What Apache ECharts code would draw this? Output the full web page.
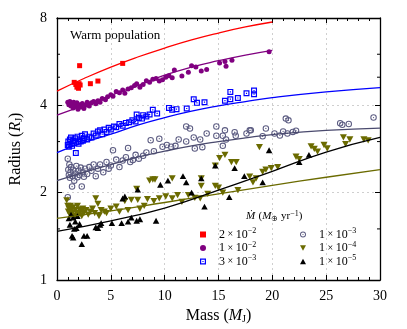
<!DOCTYPE html>
<html><head><meta charset="utf-8">
<script src="https://cdn.jsdelivr.net/npm/echarts@6/dist/echarts.min.js"></script>
<style>html,body{margin:0;padding:0;background:#fff}#c{width:407px;height:329px}</style>
</head><body><div id="c"></div>
<script>
const FONT = 'Liberation Serif';
const xTicks = [0, 5, 10, 15, 20, 25, 30];
const yTicks = [1, 2, 4, 8];
const yMinorTicks = [1.5, 3, 5, 6];
const legendNames = ['2×10^−2', '1×10^−2', '3×10^−3', '1×10^−3', '1×10^−4', '1×10^−5'];

const red = [[1.6,4.8],[1.75,4.72],[1.85,4.62],[1.9,4.68],[2.0,4.58],[2.05,4.75],[2.15,4.7],[2.1,5.48],[3.1,4.75],[3.8,4.85],[6.1,5.58]];
const purple = [[1.0,4.1],[1.1,4.02],[1.2,4.12],[1.3,3.98],[1.4,4.06],[1.5,3.92],[1.55,4.1],[1.65,4.0],[1.75,3.96],[1.85,4.08],[1.95,3.88],[2.05,4.02],[2.2,3.95],[2.35,4.06],[2.5,3.9],[2.65,4.0],[2.8,4.1],[3.0,3.98],[3.2,4.08],[3.4,4.12],[3.6,4.05],[3.8,4.15],[4.0,4.1],[4.2,4.22],[4.5,4.18],[4.7,4.28],[5.0,4.35],[5.2,4.3],[5.5,4.46],[5.8,4.42],[6.1,4.52],[6.3,4.4],[6.6,4.55],[6.9,4.6],[7.2,4.68],[7.4,4.75],[7.7,4.62],[8.0,4.72],[8.3,4.86],[8.6,4.8],[8.9,4.92],[9.2,4.95],[9.5,4.85],[9.8,4.9],[10.1,5.0],[10.4,5.06],[10.7,4.98],[10.9,5.3],[11.6,5.05],[12.2,5.2],[12.5,5.48],[12.9,5.42],[13.4,5.25],[13.9,5.32],[15.1,5.6],[15.6,5.66],[15.7,5.45],[16.25,5.72],[19.7,6.12]];
const blue = [[1.0,2.92],[1.05,3.0],[1.1,2.88],[1.2,3.05],[1.25,2.95],[1.3,3.1],[1.4,2.9],[1.5,3.02],[1.6,2.97],[1.7,3.08],[1.75,2.74],[1.8,3.0],[1.9,3.12],[2.0,2.95],[2.1,3.05],[2.2,3.0],[2.3,3.14],[2.4,3.02],[2.5,3.08],[2.6,3.18],[2.8,3.05],[3.0,3.12],[3.2,3.1],[3.4,3.2],[3.6,3.15],[3.8,3.25],[4.0,3.28],[4.2,3.18],[4.4,3.3],[4.6,3.24],[4.8,3.35],[5.0,3.3],[5.3,3.38],[5.5,3.36],[5.8,3.45],[6.1,3.4],[6.4,3.48],[6.7,3.5],[7.0,3.55],[7.4,3.72],[7.3,3.52],[7.6,3.62],[7.9,3.6],[8.0,3.7],[8.3,3.66],[8.6,3.72],[8.9,3.86],[9.3,3.75],[10.4,3.92],[10.7,3.86],[11.1,3.88],[12.05,3.9],[12.7,4.2],[13.0,4.08],[13.7,4.1],[15.6,4.15],[16.1,4.45],[16.1,4.2],[16.8,4.24],[17.6,4.4],[18.3,4.5],[18.3,4.37]];
const grey = [[1.0,2.62],[1.0,1.93],[1.05,2.4],[1.1,2.3],[1.15,2.5],[1.2,2.25],[1.25,2.35],[1.3,2.45],[1.4,2.1],[1.45,2.28],[1.5,2.4],[1.6,2.2],[1.7,2.33],[1.8,2.47],[1.9,2.26],[2.0,2.38],[2.1,2.3],[2.2,2.44],[2.3,2.1],[2.4,2.35],[2.5,2.27],[2.6,2.42],[2.8,2.32],[3.0,2.45],[3.2,2.38],[3.4,2.5],[3.6,2.28],[3.8,2.42],[4.0,2.5],[4.3,2.35],[4.6,2.55],[4.8,2.42],[5.0,2.48],[5.2,2.8],[5.5,2.6],[5.8,2.45],[6.1,2.58],[6.4,2.65],[6.6,2.85],[6.8,2.55],[7.05,2.59],[7.3,2.7],[7.6,2.62],[8.0,2.68],[8.3,2.75],[8.7,3.03],[9.0,2.78],[9.5,3.07],[9.8,2.88],[10.2,2.92],[10.6,2.88],[11.0,2.9],[11.3,3.05],[12.0,3.0],[12.0,3.38],[12.35,3.33],[12.7,3.1],[12.8,2.84],[13.3,3.05],[13.5,2.87],[13.9,3.2],[14.8,3.14],[14.8,3.38],[15.4,2.9],[15.4,3.14],[15.6,3.28],[15.7,3.05],[16.5,3.23],[16.6,3.14],[17.6,3.2],[17.9,3.28],[18.0,3.28],[19.1,3.13],[19.4,3.33],[20.2,3.2],[20.7,3.15],[21.0,3.25],[21.25,3.6],[21.4,3.2],[21.5,3.55],[21.9,3.24],[22.2,3.27],[26.3,3.47],[26.5,3.43],[27.1,3.45],[29.4,3.63]];
const olive = [[0.9,1.88],[1.0,1.8],[1.05,1.72],[1.1,1.76],[1.2,1.68],[1.25,1.8],[1.3,1.74],[1.4,1.7],[1.5,1.78],[1.6,1.66],[1.7,1.74],[1.8,1.7],[1.9,1.8],[2.0,1.68],[2.1,1.75],[2.2,1.72],[2.3,1.66],[2.4,1.76],[2.5,1.7],[2.7,1.74],[2.9,1.68],[3.1,1.72],[3.3,1.76],[3.5,1.7],[3.6,1.91],[3.8,1.83],[3.9,1.66],[4.1,1.74],[4.4,1.72],[4.6,1.7],[5.0,1.76],[5.5,1.79],[5.8,1.72],[6.3,1.87],[6.6,1.74],[6.9,1.89],[7.4,2.06],[7.5,1.89],[7.7,1.76],[8.1,1.8],[8.4,1.9],[8.6,2.2],[8.9,2.22],[9.1,2.22],[9.0,1.87],[9.5,1.91],[10.1,1.94],[10.7,1.91],[10.7,2.24],[11.2,1.96],[11.6,1.86],[12.2,1.96],[12.8,1.92],[13.3,1.91],[13.4,2.11],[13.4,2.24],[14.0,1.98],[14.7,2.11],[14.7,2.48],[15.0,2.08],[15.1,2.63],[15.4,2.0],[15.6,2.7],[16.2,2.55],[16.65,2.55],[16.8,2.04],[17.9,2.27],[18.2,2.17],[18.5,2.24],[18.8,2.87],[19.1,2.36],[19.4,2.4],[19.9,2.43],[20.5,2.45],[22.2,2.66],[22.5,2.61],[23.6,2.89],[23.9,2.83],[24.2,2.77],[24.8,2.92],[25.1,2.84],[26.6,3.1],[26.8,2.94],[27.2,3.05],[28.5,3.05],[28.9,3.03]];
const black = [[1.1,1.63],[1.2,1.55],[1.3,1.68],[1.4,1.42],[1.5,1.64],[1.5,1.4],[1.6,1.5],[1.7,1.59],[1.8,1.51],[1.9,1.66],[2.1,1.56],[2.3,1.33],[2.5,1.42],[2.8,1.42],[3.6,1.52],[3.8,1.51],[4.0,1.55],[4.1,1.57],[5.1,1.57],[6.0,1.57],[6.1,1.91],[6.3,1.94],[6.6,1.59],[6.9,1.64],[7.4,1.6],[7.5,2.05],[7.7,1.62],[9.2,1.6],[9.6,2.13],[10.3,2.2],[11.7,2.28],[12.0,2.17],[12.5,2.0],[13.4,2.24],[13.7,1.79],[14.7,2.48],[16.0,1.93],[16.5,2.43],[17.4,2.28],[19.1,2.17],[19.7,2.8],[22.5,2.55],[23.4,2.7]];

const redLine = [[0,4.48],[2.5,4.95],[5,5.42],[7.5,5.87],[10,6.3],[12.5,6.72],[15,7.1],[17.5,7.45],[20,7.75]];
const purpleLine = [[0,3.7],[2.5,4.0],[5,4.33],[7.5,4.68],[10,5.08],[12.5,5.42],[15,5.7],[17.5,5.96],[20,6.19]];
const blueLine = [[0,2.75],[2.5,2.98],[5,3.18],[7.5,3.42],[10,3.63],[12.5,3.82],[15,3.98],[17.5,4.12],[20,4.25],[25,4.45],[30,4.6]];
const greyLine = [[0,2.2],[2.5,2.35],[5,2.5],[7.5,2.65],[10,2.78],[12.5,2.9],[15,3.0],[17.5,3.09],[20,3.17],[25,3.28],[30,3.34]];
const oliveLine = [[0,1.63],[5,1.73],[10,1.85],[15,1.98],[20,2.12],[25,2.26],[30,2.4]];
const blackLine = [[0,1.47],[5,1.6],[10,1.77],[15,2.04],[20,2.37],[25,2.76],[30,3.1]];

const C = {red:'#ff0000', purple:'#800080', blue:'#0000ff', grey:'#5c5c82', greyLine:'#4a4a6e', olive:'#6b6b00', black:'#000000'};
const symBlue = 'path://M0,0L10,0L10,10L0,10Z M2,8L8,8L8,2L2,2Z M4,4L6,4L6,6L4,6Z';
const symGrey = 'path://M5,0A5,5,0,1,1,5,10A5,5,0,1,1,5,0Z M5,1.6A3.4,3.4,0,1,0,5,8.4A3.4,3.4,0,1,0,5,1.6Z M5,4A1,1,0,1,1,5,6A1,1,0,1,1,5,4Z';
const symDown = 'path://M0,0L10,0L5,9Z';
const symUp = 'path://M5,0L10,9L0,9Z';

function sc(name, data, symbol, size, color) {
  return {name, type:'scatter', data, symbol, symbolSize:size, symbolKeepAspect:true,
    itemStyle:{color, opacity:1}, z:3, emphasis:{disabled:true}};
}
function ln(name, data, color) {
  return {name, type:'line', data, smooth:true, showSymbol:false, symbol:'none',
    lineStyle:{color, width:1.3}, z:4, emphasis:{disabled:true}};
}
function legFmt(name) {
  const [m, e] = name.split('×10^');
  return '{a|' + m + '}{x| × }{a|10}{s|' + e + '}';
}
const legRich = {
  a:{fontFamily:FONT, fontSize:12, color:'#000', lineHeight:15},
  x:{fontFamily:FONT, fontSize:10, color:'#000', lineHeight:15},
  s:{fontFamily:FONT, fontSize:8, color:'#000', verticalAlign:'top', lineHeight:9}
};
function legend(data, left) {
  return {data, left, top:222, orient:'vertical', itemWidth:6, itemHeight:6, itemGap:0,
    formatter:legFmt, selectedMode:false,
    textStyle:{fontFamily:FONT, fontSize:12, color:'#000', rich:legRich, padding:[0,0,0,8]}};
}
const axisBase = {
  type:'value', min:0, max:30, interval:5,
  axisLine:{show:true, onZero:false, lineStyle:{color:'#000', width:1.3}},
  axisTick:{show:true, inside:true, length:5, lineStyle:{color:'#000', width:1}},
  minorTick:{show:true, splitNumber:5, length:3, lineStyle:{color:'#000', width:1}}
};
const yBase = {
  type:'log', logBase:2, min:1, max:8, splitNumber:3,
  axisLine:{show:true, onZero:false, lineStyle:{color:'#000', width:1.3}},
  axisTick:{show:true, inside:true, length:5, lineStyle:{color:'#000', width:1}},
  minorTick:{show:false}
};
const chart = echarts.init(document.getElementById('c'), null, {renderer:'canvas'});
chart.setOption({
  animation:false,
  backgroundColor:'#fff',
  grid:{left:54, right:27, top:18, bottom:49},
  xAxis:[
    Object.assign({}, axisBase, {position:'bottom',
      axisLabel:{fontFamily:FONT, fontSize:14, color:'#000', margin:9},
      splitLine:{show:true, lineStyle:{color:'#cfcfcf', type:[2,3], width:1}},
      name:'{a|Mass (}{i|M}{s|J}{a|)}', nameLocation:'middle', nameGap:27,
      nameTextStyle:{rich:{
        a:{fontFamily:FONT, fontSize:16, color:'#000'},
        i:{fontFamily:FONT, fontSize:16, fontStyle:'italic', color:'#000'},
        s:{fontFamily:FONT, fontSize:10, color:'#000', verticalAlign:'bottom', padding:[6,0,0,0]}}}}),
    Object.assign({}, axisBase, {position:'top', axisLabel:{show:false}, splitLine:{show:false}})
  ],
  yAxis:[
    Object.assign({}, yBase, {position:'left',
      axisLabel:{fontFamily:FONT, fontSize:14, color:'#000', margin:10},
      splitLine:{show:true, lineStyle:{color:'#cfcfcf', type:[2,3], width:1}},
      name:'{a|Radius (}{i|R}{s|J}{a|)}', nameLocation:'middle', nameGap:33, nameRotate:90,
      nameTextStyle:{rich:{
        a:{fontFamily:FONT, fontSize:16, color:'#000'},
        i:{fontFamily:FONT, fontSize:16, fontStyle:'italic', color:'#000'},
        s:{fontFamily:FONT, fontSize:10, color:'#000', verticalAlign:'bottom', padding:[6,0,0,0]}}}}),
    Object.assign({}, yBase, {position:'right', axisLabel:{show:false}, splitLine:{show:false}})
  ],
  legend:[legend(legendNames.slice(0,3), 195), legend(legendNames.slice(3), 295)],
  graphic:[
    {type:'text', left:70, top:29, style:{text:'Warm population', font:'13px "Liberation Serif"', fill:'#000'}},
    {type:'text', left:246, top:210, style:{
      text:'{i|Ṁ} {a|(}{i|M}{s|⊕}{a| yr}{p|−1}{a|)}',
      rich:{
        a:{fontFamily:FONT, fontSize:11, color:'#000', lineHeight:13},
        i:{fontFamily:FONT, fontSize:11, fontStyle:'italic', color:'#000', lineHeight:13},
        s:{fontFamily:FONT, fontSize:8, color:'#000', verticalAlign:'bottom', lineHeight:8},
        p:{fontFamily:FONT, fontSize:8, color:'#000', verticalAlign:'top', lineHeight:8}
      }}}
  ],
  series:[
    sc(legendNames[0], red, 'rect', 5, C.red),
    sc(legendNames[1], purple, 'circle', 5, C.purple),
    sc(legendNames[2], blue, symBlue, 6, C.blue),
    sc(legendNames[3], grey, symGrey, 6.5, C.grey),
    sc(legendNames[4], olive, symDown, 7, C.olive),
    sc(legendNames[5], black, symUp, 6.5, C.black),
    ln('fitRed', redLine, C.red),
    ln('fitPurple', purpleLine, C.purple),
    ln('fitBlue', blueLine, C.blue),
    ln('fitGrey', greyLine, C.greyLine),
    ln('fitOlive', oliveLine, C.olive),
    ln('fitBlack', blackLine, C.black),
    {type:'custom', name:'minorY', silent:true, z:10, clip:false,
      data: yMinorTicks.map(v => [0, v]),
      renderItem:(params, api) => {
        const p = api.coord([0, api.value(1)]);
        const q = api.coord([30, api.value(1)]);
        return {type:'group', children:[
          {type:'line', shape:{x1:p[0], y1:p[1], x2:p[0]+3, y2:p[1]}, style:{stroke:'#000', lineWidth:1}},
          {type:'line', shape:{x1:q[0]-3, y1:q[1], x2:q[0], y2:q[1]}, style:{stroke:'#000', lineWidth:1}}
        ]};
      }}
  ]
});
</script></body></html>
